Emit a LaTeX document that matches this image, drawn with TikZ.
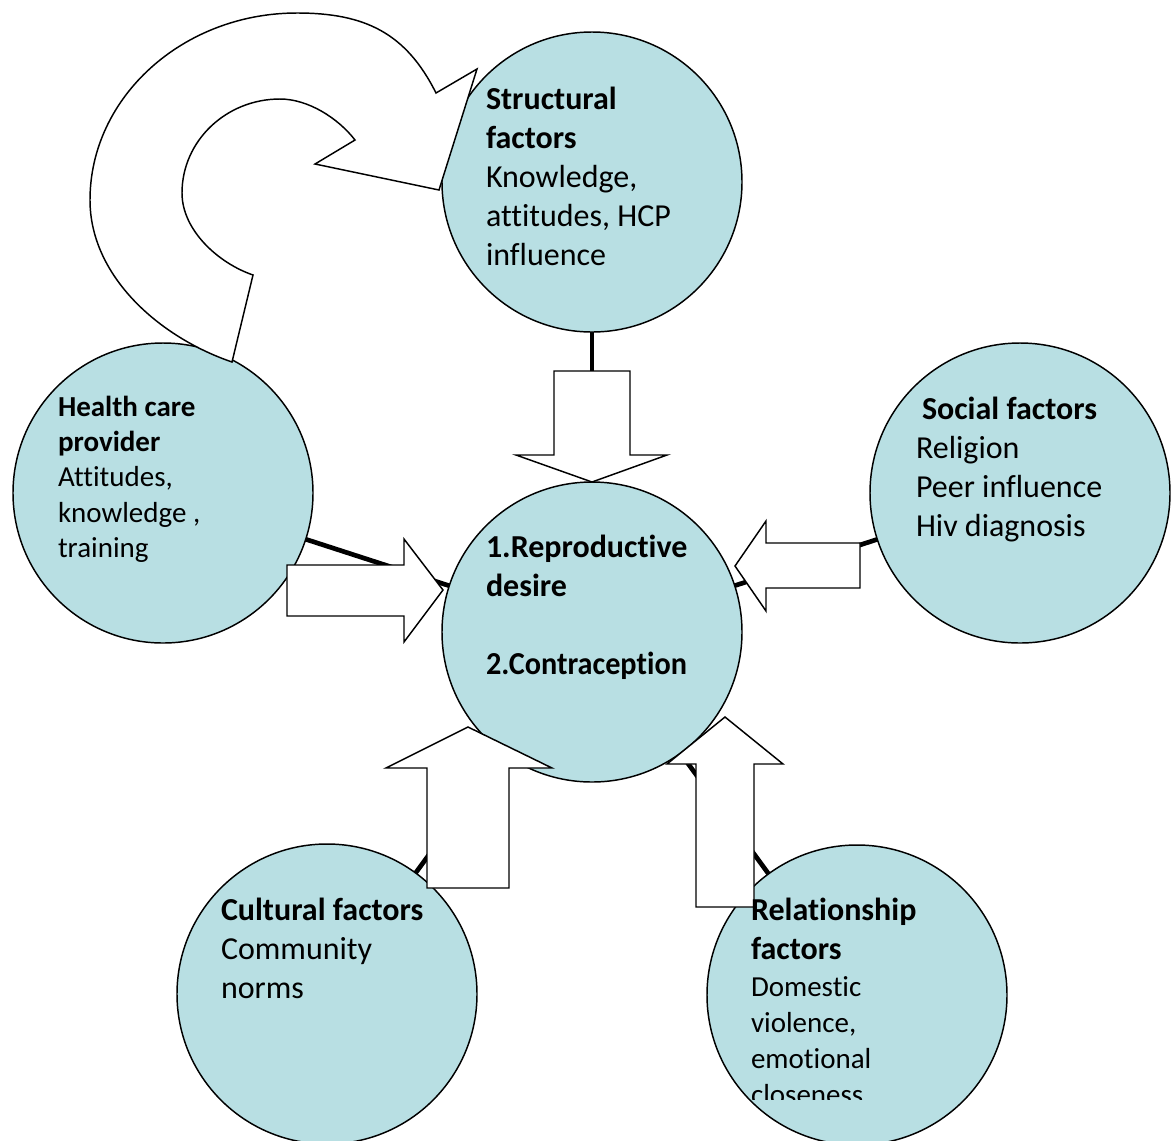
\documentclass[tikz,border=0pt]{standalone}
\usepackage{fontspec}
\setmainfont{Carlito}[Ligatures={NoCommon}]
\usetikzlibrary{backgrounds}
\definecolor{bubble}{RGB}{184,223,227}
\begin{document}
\begin{tikzpicture}[x=0.75pt,y=-0.75pt,
  factor/.style={circle,draw=black,line width=1.1pt,fill=bubble,minimum size=225pt,inner sep=0pt},
  link/.style={line width=3.5pt,black},
  blockarrow/.style={draw=black,fill=white,line width=1.1pt,line join=miter},
  txt/.style={anchor=base west,inner sep=0pt,outer sep=0pt},
  big/.style={font=\fontsize{24}{29.25}\selectfont},
  small/.style={font=\fontsize{21.75}{26.6}\selectfont},
  smaller/.style={font=\fontsize{21.75}{27}\selectfont}]
\useasboundingbox (0,0) rectangle (1171,1140);

% factor circles
\node[factor] (struct) at (592,182) {};
\node[factor] (hcp)    at (163,493) {};
\node[factor] (social) at (1020,493) {};
\node[factor] (core)   at (592,632) {};
\node[factor] (cult)   at (327,994) {};
\node[factor] (rel)    at (857,995) {};

% thick links between the circle centres, kept behind the circles
\begin{scope}[on background layer]
  \draw[link] (struct.center) -- (core.center);
  \draw[link] (hcp.center)    -- (core.center);
  \draw[link] (social.center) -- (core.center);
  \draw[link] (cult.center)   -- (core.center);
  \draw[link] (rel.center)    -- (core.center);
\end{scope}

% block arrows pointing at the central circle
\filldraw[blockarrow] (554,371) -- (630,371) -- (630,455) -- (667,455) -- (592,482)
  -- (516,455) -- (554,455) -- cycle;
\filldraw[blockarrow] (287,565) -- (404,565) -- (404,539) -- (443,590) -- (404,642)
  -- (404,616) -- (287,616) -- cycle;
\filldraw[blockarrow] (860,543) -- (766,543) -- (766,521) -- (735,566) -- (766,611)
  -- (766,588) -- (860,588) -- cycle;
\filldraw[blockarrow] (427,888) -- (427,768) -- (386,768) -- (468,727) -- (552,768)
  -- (509,768) -- (509,888) -- cycle;
\filldraw[blockarrow] (696,907) -- (696,764) -- (667,764) -- (725,717) -- (783,764)
  -- (754,764) -- (754,907) -- cycle;

% curved arrow from the health care provider to the structural factors
\filldraw[blockarrow] (436,93)
  .. controls (406,33) and (365,13) .. (297,13)
  .. controls (183,13) and (90,97) .. (90,200)
  .. controls (90,276) and (159,337) .. (232,362)
  -- (253,275)
  .. controls (218,263) and (182,230) .. (182,193)
  .. controls (182,141) and (226,99) .. (280,99)
  .. controls (308,99) and (338,118) .. (355,140)
  -- (315,164) -- (439,190) -- (477,69) -- cycle;

% texts
\node[txt,big] (structtext) at (486,109) {\vtop{\hbox{\bfseries Structural}
  \hbox{\bfseries factors}\hbox{Knowledge,}\hbox{attitudes, HCP}\hbox{influence}}};
\node[txt,small] (hcptext) at (58,416) {\vtop{\hbox{\bfseries Health care}
  \hbox{\bfseries provider}\hbox{Attitudes,}\hbox{knowledge ,}\hbox{training}}};
\node[txt,big] (coretext) at (486,557) {\vtop{\hbox{\bfseries 1.Reproductive}
  \hbox{\bfseries desire}\hbox{}\hbox{\scalebox{0.945}[1]{\bfseries 2.Contraception}}}};
\node[txt,big] (socialtext) at (916,419) {\vtop{\hbox{\hspace*{4.5pt}\bfseries Social factors}
  \hbox{Religion}\hbox{Peer influence}\hbox{Hiv diagnosis}}};
\node[txt,big] (culttext) at (221,920) {\vtop{\hbox{\bfseries Cultural factors}
  \hbox{Community}\hbox{norms}}};
\node[txt,big] (reltitle) at (751,920) {\vtop{\hbox{\bfseries Relationship}
  \hbox{\bfseries factors}}};
\begin{scope}
  \clip (700,965) rectangle (1010,1099);
  \node[txt,smaller] (reltext) at (751,996) {\vtop{\hbox{Domestic}\hbox{violence,}
    \hbox{emotional}\hbox{closeness}}};
\end{scope}
\end{tikzpicture}
\end{document}
